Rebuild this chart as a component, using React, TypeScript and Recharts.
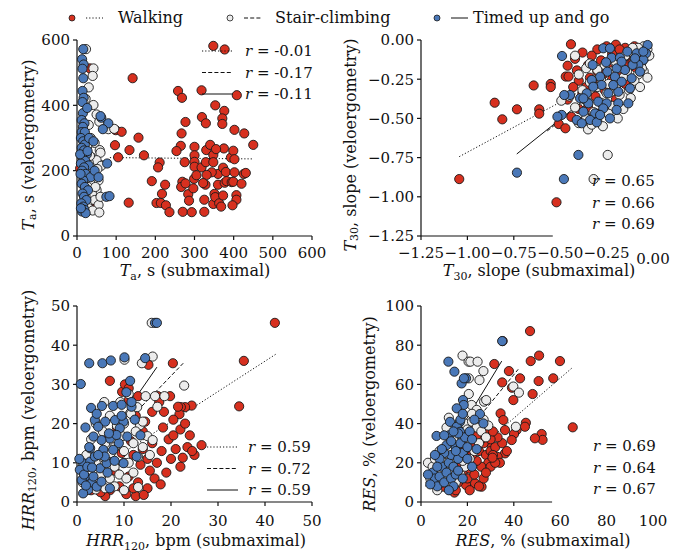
import { ScatterChart, Scatter, XAxis, YAxis, ReferenceLine } from "recharts";

type XY = number[][];

const FONT = "DejaVu Serif";
const RED = "#d7301f";
const WHITE = "#ececec";
const BLUE = "#4a78b8";

// legend labels
const groups = ["Walking", "Stair-climbing", "Timed up and go"];

// --- T_a, s ---
const walkTa: XY = [
  [348, 582], [377, 571], [142, 483], [258, 444], [268, 423], [318, 446], [408, 431], [353, 400],
  [376, 383], [277, 349], [319, 364], [371, 360], [371, 343], [329, 345], [427, 314], [450, 279],
  [402, 325], [99, 324], [114, 319], [157, 301], [97, 278], [134, 263], [105, 241], [171, 247],
  [132, 102], [191, 168], [211, 225], [207, 210], [225, 157], [217, 129], [203, 101], [214, 101],
  [227, 94], [236, 73], [265, 276], [267, 314], [254, 260], [269, 166], [266, 150], [277, 161],
  [284, 128], [286, 108], [270, 74], [293, 73], [275, 226], [300, 273], [300, 247], [300, 227],
  [300, 212], [297, 146], [299, 175], [325, 74], [325, 111], [318, 210], [329, 226], [330, 263],
  [328, 157], [340, 279], [348, 248], [348, 226], [351, 129], [348, 98], [353, 119], [360, 190],
  [360, 157], [363, 100], [368, 90], [377, 163], [373, 124], [373, 209], [380, 196], [382, 168],
  [375, 268], [393, 240], [399, 261], [402, 235], [402, 195], [395, 165], [399, 166], [407, 125],
  [407, 111], [397, 94], [420, 160], [426, 190], [431, 193], [355, 266], [344, 195], [331, 187],
  [322, 162], [305, 186], [33, 513], [8, 207], [50, 95],
];
const stairTa: XY = [
  [23, 572], [42, 513], [40, 490], [30, 455], [42, 401], [50, 372], [57, 350], [80, 327],
  [95, 328], [35, 300], [45, 285], [58, 263], [60, 255], [38, 240], [50, 232], [30, 225],
  [62, 215], [25, 205], [48, 195], [40, 180], [55, 170], [35, 160], [28, 150], [50, 140],
  [38, 130], [22, 120], [45, 110], [55, 95], [30, 85], [40, 78], [57, 72], [20, 260],
  [26, 275], [33, 245], [18, 190], [47, 150], [60, 120], [30, 340], [22, 420], [52, 205],
];
const tugTa: XY = [
  [16, 572], [13, 541], [17, 525], [14, 512], [16, 483], [14, 444], [17, 423], [15, 376],
  [12, 355], [19, 345], [62, 362], [80, 345], [15, 334], [12, 318], [20, 318], [10, 300],
  [16, 290], [20, 280], [12, 270], [18, 262], [25, 250], [14, 240], [21, 230], [10, 222],
  [30, 216], [18, 210], [13, 200], [22, 190], [35, 180], [16, 170], [12, 160], [20, 150],
  [28, 140], [14, 130], [18, 120], [24, 110], [11, 100], [16, 90], [19, 80], [13, 75],
  [22, 70], [45, 200], [55, 180], [75, 120], [8, 250], [27, 260], [9, 190], [31, 300],
  [42, 290], [14, 410], [26, 392], [83, 122], [77, 222], [66, 327], [60, 367], [10, 85],
];
const taLines: XY[] = [
  [[84, 240], [449, 236]],
  [[5, 262], [60, 232]],
  [[3, 245], [80, 226]],
];
const taR = ["-0.01", "-0.17", "-0.11"];

// --- T30, slope ---
const walkT30: XY = [
  [-1.044, -0.887], [-0.853, -0.4], [-0.812, -0.506], [-0.733, -0.442], [-0.643, -0.29],
  [-0.551, -0.28], [-0.551, -0.3], [-0.613, -0.442], [-0.613, -0.47], [-0.508, -0.536],
  [-0.472, -0.563], [-0.442, -0.027], [-0.46, -0.164], [-0.47, -0.233], [-0.455, -0.233],
  [-0.41, -0.194], [-0.52, -1.035],
  [-0.42, -0.12], [-0.38, -0.08], [-0.3, -0.06], [-0.25, -0.04], [-0.2, -0.03], [-0.15, -0.05],
  [-0.1, -0.04], [-0.33, -0.1], [-0.28, -0.13], [-0.22, -0.09], [-0.17, -0.12], [-0.12, -0.1],
  [-0.07, -0.09], [-0.35, -0.16], [-0.3, -0.2], [-0.24, -0.18], [-0.19, -0.22], [-0.14, -0.16],
  [-0.09, -0.18], [-0.4, -0.26], [-0.34, -0.24], [-0.27, -0.22], [-0.22, -0.25], [-0.15, -0.28],
  [-0.43, -0.3], [-0.38, -0.34], [-0.31, -0.36], [-0.26, -0.32], [-0.2, -0.38], [-0.4, -0.44],
  [-0.35, -0.43], [-0.3, -0.47], [-0.25, -0.45], [-0.44, -0.49], [-0.38, -0.52], [-0.33, -0.49],
  [-0.46, -0.38], [-0.36, -0.3], [-0.18, -0.06], [-0.05, -0.07], [-0.11, -0.14], [-0.29, -0.28],
];
const stairT30: XY = [
  [-0.05, -0.04], [-0.03, -0.06], [-0.08, -0.05], [-0.12, -0.08], [-0.1, -0.12], [-0.06, -0.14],
  [-0.04, -0.11], [-0.15, -0.1], [-0.2, -0.14], [-0.18, -0.18], [-0.14, -0.2], [-0.08, -0.22],
  [-0.05, -0.2], [-0.03, -0.24], [-0.1, -0.26], [-0.16, -0.24], [-0.22, -0.2], [-0.26, -0.16],
  [-0.3, -0.19], [-0.28, -0.25], [-0.24, -0.28], [-0.2, -0.3], [-0.13, -0.32], [-0.07, -0.3],
  [-0.18, -0.35], [-0.25, -0.34], [-0.3, -0.3], [-0.34, -0.27], [-0.38, -0.32], [-0.35, -0.4],
  [-0.28, -0.4], [-0.22, -0.42], [-0.16, -0.44], [-0.24, -0.47], [-0.32, -0.46], [-0.36, -0.5],
  [-0.3, -0.52], [-0.42, -0.43], [-0.4, -0.53], [-0.27, -0.55], [-0.35, -0.57], [-0.4, -0.22],
  [-0.36, -0.18], [-0.42, -0.1], [-0.45, -0.36], [-0.244, -0.733], [-0.494, -0.387],
  [-0.33, -0.54], [-0.34, -0.15], [-0.11, -0.05], [-0.02, -0.1], [-0.06, -0.18], [-0.12, -0.37],
  [-0.19, -0.5], [-0.32, -0.887],
];
const tugT30: XY = [
  [-0.49, -0.102], [-0.268, -0.053], [-0.223, -0.113], [-0.178, -0.113], [-0.138, -0.074],
  [-0.088, -0.085], [-0.029, -0.032], [-0.038, -0.085], [-0.052, -0.127], [-0.079, -0.159],
  [-0.11, -0.159], [-0.151, -0.191], [-0.196, -0.181], [-0.246, -0.202], [-0.285, -0.234],
  [-0.33, -0.255], [-0.325, -0.159], [-0.253, -0.142], [-0.205, -0.234], [-0.169, -0.266],
  [-0.115, -0.244], [-0.07, -0.202], [-0.124, -0.308], [-0.187, -0.33], [-0.241, -0.34],
  [-0.277, -0.287], [-0.322, -0.298], [-0.357, -0.34], [-0.393, -0.372], [-0.348, -0.404],
  [-0.295, -0.393], [-0.25, -0.404], [-0.187, -0.404], [-0.133, -0.404], [-0.196, -0.446],
  [-0.268, -0.436], [-0.312, -0.468], [-0.375, -0.457], [-0.411, -0.51], [-0.339, -0.51],
  [-0.303, -0.525], [-0.384, -0.531], [-0.447, -0.351], [-0.478, -0.351], [-0.492, -0.478],
  [-0.515, -0.489], [-0.232, -0.5], [-0.285, -0.478], [-0.232, -0.053], [-0.052, -0.074],
  [-0.097, -0.117], [-0.169, -0.138], [-0.214, -0.287], [-0.375, -0.372], [-0.733, -0.846],
  [-0.402, -0.733], [-0.48, -0.887],
];
const t30Lines: XY[] = [
  [[-1.044, -0.744], [-0.02, -0.09]],
  [[-0.57, -0.58], [-0.02, -0.07]],
  [[-0.734, -0.727], [-0.03, -0.06]],
];
const t30R = ["0.65", "0.66", "0.69"];

// --- HRR120, bpm ---
const walkHrr: XY = [
  [42.1, 45.7], [35.5, 36.0], [34.5, 24.4], [20.4, 35.4], [7.0, 30.9], [24.4, 24.6], [23.0, 24.2],
  [22.1, 24.2], [21.8, 22.4], [17.2, 27.0], [15.2, 35.0], [9.6, 28.1], [10.2, 30], [11, 29],
  [12.5, 22], [14.5, 20.5], [16, 23], [18.3, 19], [19.5, 16], [20.5, 17], [22, 18.5], [23.5, 14],
  [25, 12], [18, 13], [20, 11], [22, 9], [17, 10], [15.5, 8], [16.5, 6], [13, 5], [11, 6.5],
  [9, 4], [7, 3], [6, 1.5], [5, 2.5], [8, 8], [10, 10], [12, 12], [14, 13.5], [16, 15],
  [13.5, 9.5], [11.5, 15.5], [9.5, 12.5], [7.5, 10], [4.5, 5], [3, 3], [10.5, 2], [12.5, 1.5],
  [15, 3.5], [17.8, 4.5], [19, 7.5], [21, 13.5], [24, 17], [20.5, 21], [17.5, 25.5], [19.8, 27],
  [14, 18], [8.5, 19], [6.5, 16], [26.5, 14.5], [24.5, 13], [22.5, 11.3], [23, 20], [21.5, 24.3],
  [18.5, 23], [13, 27], [11, 26], [9.5, 21.5], [15, 11], [12, 3.5], [14.2, 1.8],
];
const stairHrr: XY = [
  [15.9, 45.7], [10.1, 36.3], [13.8, 35.4], [16.1, 37.1], [22.8, 29.7], [14.6, 27.0], [16.6, 27.0],
  [18.6, 27.0], [17.1, 24.3], [15.0, 16.8], [16.1, 15.8], [13.4, 19.6], [4, 20], [5.5, 18],
  [7, 22], [8.5, 19.5], [10, 20], [11.5, 22.5], [12.5, 18], [6, 15], [8, 14], [10, 13], [12, 15],
  [14, 14], [3, 16], [2, 12], [4, 10], [6, 11], [8, 9], [11, 10], [13, 11.5], [3.5, 6], [5, 7],
  [7, 6], [9, 7], [10.5, 6], [12, 7.5], [6, 3.5], [8, 4], [10, 3], [4, 3.2], [12.8, 24.2],
  [9.2, 25.5], [11, 27.5], [14, 20.5], [15.5, 12], [2.5, 9], [1.2, 5], [13, 3.8], [9.6, 16.8],
  [7.2, 12.5], [5.8, 25.5],
];
const tugHrr: XY = [
  [16.6, 45.7], [17.0, 45.7], [0.8, 30.1], [2.6, 35.4], [5.4, 35.4], [7.2, 36.1], [10.1, 36.9],
  [14.5, 36.7], [11.3, 30.9], [1.8, 19.0], [5.3, 24.5], [7.7, 24.5], [9.5, 24.8], [11.6, 24.3],
  [3.8, 20.9], [6.0, 20.5], [8.1, 20.9], [9.9, 20.5], [7.0, 16.2], [5.2, 15.8], [8.9, 15.0],
  [10.7, 16.7], [12.7, 11.6], [9.9, 9.9], [1.3, 9.9], [2.8, 10.3], [0.6, 8.2], [1.7, 6.5],
  [3.1, 4.8], [2.4, 3.1], [1.3, 2.2], [4.2, 3.9], [7.0, 3.5], [4.9, 8.6], [6.3, 9.9], [3.8, 11.6],
  [5.6, 13.3], [2.8, 13.7], [7.7, 13.3], [3.5, 16.7], [4.5, 19.2], [9.1, 18.8], [8.4, 17.1],
  [5.9, 11.6], [1.0, 5.6], [1.5, 7], [2.2, 9], [3.5, 6.5], [0.5, 11], [4.5, 12], [2.6, 14],
  [6.5, 7.5], [1.9, 4.2], [5.2, 5.2], [3.2, 8.8], [8, 10.5], [6.8, 17.5], [9.5, 22], [10.5, 28],
  [12.3, 21], [13.5, 17], [11.6, 25.5], [3, 24], [4.2, 22.5],
];
const hrrLines: XY[] = [
  [[2, 6.5], [42.3, 37.7]],
  [[1, 8.5], [22.6, 35.4]],
  [[0.5, 6], [17, 34.4]],
];
const hrrR = ["0.59", "0.72", "0.59"];

// --- RES, % ---
const walkRes: XY = [
  [47.0, 87.2], [59.9, 71.9], [50.9, 74.7], [47.3, 71.9], [57.0, 63.1], [50.7, 61.7], [42.7, 63.1],
  [37.9, 66.8], [39.2, 58.3], [39.8, 52.0], [48.1, 55.1], [65.4, 38.1], [52.0, 34.7], [52.4, 31.7],
  [49.1, 32.5], [35.2, 82.1], [31.6, 70.4], [35.0, 61.0], [34.3, 45.2], [35.5, 41.8], [36.2, 36.7],
  [45.2, 40.4], [44.8, 38.4], [41.2, 36.7], [40.1, 34.7], [39.1, 31.6], [36.2, 24.8], [31.2, 21.4],
  [30.5, 28.2], [29.5, 36.7], [25.4, 32.5], [23.3, 38.4], [21.8, 24.8], [19.7, 22.3], [23.3, 9.5],
  [26.1, 7.8], [19.4, 8.7], [16.8, 15.5], [12.5, 6.1], [14.4, 4.8], [9.6, 7.8], [22, 28], [25, 26],
  [27, 30], [28, 24], [30, 26], [32, 28], [33, 23], [29, 20], [26, 18], [24, 21], [21, 17],
  [18, 14], [16, 10], [20, 12], [23, 14], [27, 12], [30, 18], [34, 20], [31, 24], [35, 30],
  [37, 26], [33, 33], [28, 35], [26, 32], [30, 32], [31, 36], [24, 34], [22, 24], [19, 28],
  [17, 20], [14, 12], [12, 9], [15, 6], [21, 6], [28, 15], [25, 8], [32, 20], [30.8, 22.6],
];
const stairRes: XY = [
  [17.9, 74.7], [20.5, 71.6], [21.3, 71.6], [24.4, 71.6], [26.9, 66.8], [25.2, 62.2], [20.6, 63.1],
  [20.6, 55.1], [27.2, 51.2], [28.1, 52.0], [39.8, 58.9], [42.2, 55.8], [40.9, 38.4], [24.0, 42.6],
  [21.8, 49.5], [3, 20], [5, 18], [6, 22], [8, 26], [9, 16], [10, 20], [12, 28], [14, 32],
  [16, 38], [18, 33], [19, 40], [20, 37], [22, 41], [24, 38], [26, 36], [25, 30], [23, 26],
  [21, 22], [19, 18], [17, 14], [15, 10], [13, 8], [11, 12], [9, 10], [7, 6], [4, 12], [27, 42],
  [29, 39], [28, 33], [24, 47], [22, 45], [11, 38], [12, 43], [13, 17], [16, 24], [18, 21],
];
const tugRes: XY = [
  [35.0, 82.1], [11.8, 71.6], [14.4, 66.5], [19.4, 63.1], [17.5, 60.5], [18.5, 63.1], [18.1, 52.0],
  [18.4, 49.5], [15.4, 47.8], [25.4, 44.9], [26.9, 40.1], [6.7, 33.7], [12.5, 40.9], [16.8, 40.9],
  [15.4, 38.4], [16.8, 35.8], [5, 15], [6, 12], [7, 8], [8, 13], [9, 18], [10, 10], [11, 15],
  [12, 20], [13, 24], [14, 18], [15, 28], [16, 22], [17, 30], [18, 25], [19, 33], [20, 28],
  [21, 36], [22, 32], [10, 25], [11, 29], [12, 34], [8, 22], [7, 18], [9, 27], [13, 12], [14, 8],
  [12, 6], [15, 14], [16, 35], [17, 42], [18, 45], [3, 14], [4, 9], [6, 24], [10, 34], [13, 31],
  [14, 36], [15, 26], [16, 16], [18, 12], [20, 22], [22, 18], [24, 27], [23, 42],
];
const resLines: XY[] = [
  [[5, 7], [65.4, 68.7]],
  [[2, 10], [41.9, 67.7]],
  [[2, 8], [34.8, 71.9]],
];
const resR = ["0.69", "0.64", "0.67"];

const taTicks = [0, 100, 200, 300, 400, 500, 600];
const taYTicks = [0, 200, 400, 600];
const t30Ticks = [-1.25, -1, -0.75, -0.5, -0.25, 0];
const hrrTicks = [0, 10, 20, 30, 40, 50];
const resTicks = [0, 20, 40, 60, 80, 100];

const DASH = ["1.2 2", "4 2.2", undefined];
const COLORS = [RED, WHITE, BLUE];

const toPts = (a: XY) => a.map(([x, y]) => ({ x, y }));

const dot = (fill: string) => (p: any) => (
  <circle cx={p.cx} cy={p.cy} r={4.6} fill={fill} stroke="#1a1a1a" strokeWidth={0.9} />
);

const fmt2 = (v: number) => (v < 0 ? "\u2212" : "") + Math.abs(v).toFixed(2);

function Panel(props: {
  left: number;
  top: number;
  width: number;
  height: number;
  mTop: number;
  mRight: number;
  yWidth: number;
  xHeight: number;
  domain: number[];
  xTicks: number[];
  yTicks: number[];
  series: XY[];
  lines: XY[];
  labelGap: number;
  decimals?: boolean;
  cut?: number; // x value where the bottom spine stops (legend covers it)
}) {
  const f = props.decimals ? fmt2 : (v: number) => String(v);
  const cut = props.cut;
  const xTick = (tp: any) => {
    const v = tp.payload.value;
    const ay = tp.y - 7;
    const last = props.decimals && v === 0;
    return (
      <g>
        {(cut === undefined || v < cut) && (
          <line x1={tp.x} x2={tp.x} y1={ay} y2={ay + 4} stroke="#111" strokeWidth={1.2} />
        )}
        <text
          x={tp.x}
          y={ay + props.labelGap + (last ? 6 : 0)}
          dy="0.72em"
          textAnchor="middle"
          fill="#111"
          fontSize={15}
          fontFamily={FONT}
        >
          {f(v)}
        </text>
      </g>
    );
  };
  const yTick = (tp: any) => {
    const v = tp.payload.value;
    return (
      <text x={tp.x} y={tp.y} dy="0.36em" textAnchor="end" fill="#111" fontSize={15} fontFamily={FONT}>
        {f(v)}
      </text>
    );
  };
  return (
    <div style={{ position: "absolute", left: props.left, top: props.top }}>
      <ScatterChart
        width={props.width}
        height={props.height}
        margin={{ top: props.mTop, right: props.mRight, left: 0, bottom: 0 }}
      >
        <XAxis
          type="number"
          dataKey="x"
          domain={props.domain}
          ticks={props.xTicks}
          interval={0}
          height={props.xHeight}
          axisLine={cut === undefined ? { stroke: "#111", strokeWidth: 1.2 } : false}
          tickLine={false}
          tickSize={4}
          tickMargin={3}
          tick={xTick}
        />
        <YAxis
          type="number"
          dataKey="y"
          domain={[props.yTicks[0], props.yTicks[props.yTicks.length - 1]]}
          ticks={props.yTicks}
          interval={0}
          width={props.yWidth}
          axisLine={{ stroke: "#111", strokeWidth: 1.2 }}
          tickLine={{ stroke: "#111", strokeWidth: 1.2 }}
          tickSize={4}
          tickMargin={3}
          tick={yTick}
        />
        {cut !== undefined && (
          <ReferenceLine
            segment={[
              { x: props.domain[0], y: props.yTicks[0] },
              { x: cut, y: props.yTicks[0] },
            ]}
            stroke="#111"
            strokeWidth={1.2}
            ifOverflow="visible"
          />
        )}
        {props.series.map((s, i) => (
          <Scatter key={i} data={toPts(s)} shape={dot(COLORS[i])} isAnimationActive={false} />
        ))}
        {props.lines.map((l, i) => (
          <ReferenceLine
            key={"l" + i}
            segment={[
              { x: l[0][0], y: l[0][1] },
              { x: l[1][0], y: l[1][1] },
            ]}
            stroke="#111"
            strokeWidth={1}
            strokeDasharray={DASH[i]}
            ifOverflow="visible"
          />
        ))}
      </ScatterChart>
    </div>
  );
}

function RLegend({ x, y, rs, lineX }: { x: number; y: number; rs: string[]; lineX?: number }) {
  return (
    <g>
      {rs.map((r, i) => (
        <g key={i}>
          {lineX !== undefined && (
            <line
              x1={lineX}
              x2={lineX + 31}
              y1={y + i * 21.5}
              y2={y + i * 21.5}
              stroke="#111"
              strokeWidth={1}
              strokeDasharray={DASH[i]}
            />
          )}
          <text x={x} y={y + i * 21.5 + 5} fontSize={15} fill="#111" fontFamily={FONT}>
            <tspan fontStyle="italic">r</tspan> = {r}
          </text>
        </g>
      ))}
    </g>
  );
}

function Sub({ main, sub, rest }: { main: string; sub?: string; rest: string }) {
  return (
    <>
      <tspan fontStyle="italic">{main}</tspan>
      {sub && (
        <tspan dy={4} fontSize={11}>
          {sub}
        </tspan>
      )}
      <tspan dy={sub ? -4 : 0}>{rest}</tspan>
    </>
  );
}

export default function App() {
  const lab = { fontSize: 16, fill: "#111", textAnchor: "middle" as const, fontFamily: FONT };
  const legX = [72, 230, 437];
  const legText = [118, 275, 473];
  return (
    <div
      style={{
        position: "absolute",
        left: 0,
        top: 0,
        width: 684,
        height: 557,
        background: "#fff",
        overflow: "hidden",
      }}
    >
      <Panel left={0} top={0} width={330} height={280} mTop={40} mRight={18} yWidth={77} xHeight={44}
        domain={[0, 600]} xTicks={taTicks} yTicks={taYTicks} series={[walkTa, stairTa, tugTa]} lines={taLines}
        labelGap={11} />
      <Panel left={340} top={0} width={330} height={280} mTop={40} mRight={17} yWidth={81} xHeight={44}
        domain={[-1.25, 0]} xTicks={t30Ticks} yTicks={t30Ticks} series={[walkT30, stairT30, tugT30]}
        lines={t30Lines} decimals cut={-0.54} labelGap={11} />
      <Panel left={0} top={280} width={330} height={277} mTop={26} mRight={18} yWidth={77} xHeight={55}
        domain={[0, 50]} xTicks={hrrTicks} yTicks={hrrTicks} series={[walkHrr, stairHrr, tugHrr]} lines={hrrLines}
        labelGap={13} />
      <Panel left={340} top={280} width={330} height={277} mTop={26} mRight={17} yWidth={81} xHeight={55}
        domain={[0, 100]} xTicks={resTicks} yTicks={resTicks} series={[walkRes, stairRes, tugRes]}
        lines={resLines} cut={56.5} labelGap={13} />

      <svg width={684} height={557} style={{ position: "absolute", left: 0, top: 0, pointerEvents: "none" }}>
        {/* shared legend */}
        {groups.map((g, i) => (
          <g key={g}>
            <circle cx={legX[i]} cy={18} r={3} fill={COLORS[i]} stroke="#1a1a1a" strokeWidth={0.8} />
            <line x1={legX[i] + 14} x2={legX[i] + 31} y1={18} y2={18} stroke="#111" strokeWidth={1}
              strokeDasharray={DASH[i]} />
            <text x={legText[i]} y={23} fontSize={16} fill="#111" fontFamily={FONT}>
              {g}
            </text>
          </g>
        ))}

        <RLegend x={245} y={51} rs={taR} lineX={202} />
        <RLegend x={592} y={181} rs={t30R} />
        <RLegend x={248} y={447} rs={hrrR} lineX={207} />
        <RLegend x={593} y={446} rs={resR} />

        {/* axis titles */}
        <text x={195} y={276} {...lab}>
          <Sub main="T" sub="a" rest=", s (submaximal)" />
        </text>
        <text x={28} y={145} {...lab} dominantBaseline="central" transform="rotate(-90 28 145)">
          <Sub main="T" sub="a" rest=", s (veloergometry)" />
        </text>
        <text x={539} y={276} {...lab}>
          <Sub main="T" sub="30" rest=", slope (submaximal)" />
        </text>
        <text x={350} y={145} {...lab} dominantBaseline="central" transform="rotate(-90 350 145)">
          <Sub main="T" sub="30" rest=", slope (veloergometry)" />
        </text>
        <text x={196} y={546} {...lab}>
          <Sub main="HRR" sub="120" rest=", bpm (submaximal)" />
        </text>
        <text x={28} y={410} {...lab} dominantBaseline="central" transform="rotate(-90 28 410)">
          <Sub main="HRR" sub="120" rest=", bpm (veloergometry)" />
        </text>
        <text x={543} y={546} {...lab}>
          <Sub main="RES" rest=", % (submaximal)" />
        </text>
        <text x={369} y={414} {...lab} dominantBaseline="central" transform="rotate(-90 369 414)">
          <Sub main="RES" rest=", % (veloergometry)" />
        </text>
      </svg>
    </div>
  );
}
